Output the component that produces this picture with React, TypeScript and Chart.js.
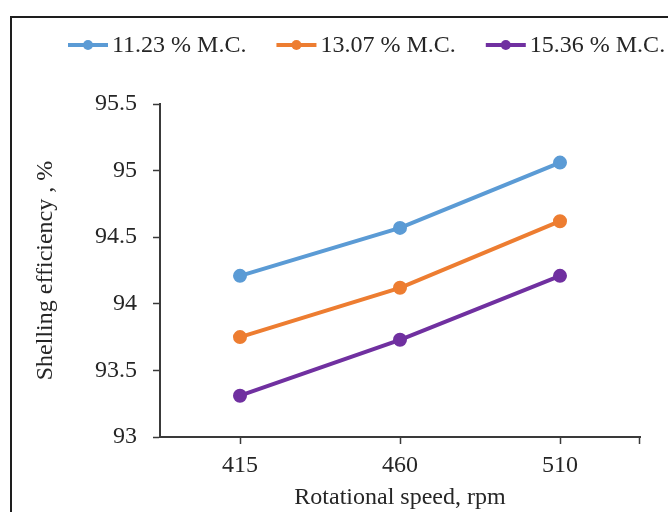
import React, { useEffect, useRef } from 'react';
import { Chart, registerables } from 'chart.js';

Chart.register(...registerables);

const categories = ['415', '460', '510'];
const series1 = [94.21, 94.57, 95.06];
const series2 = [93.75, 94.12, 94.62];
const series3 = [93.31, 93.73, 94.21];
const seriesLabels = ['11.23 % M.C.', '13.07 % M.C.', '15.36 % M.C.'];
const seriesColors = ['#5B9BD5', '#ED7D31', '#7030A0'];
const yMin = 93;
const yMax = 95.5;
const yStep = 0.5;
const xTitle = 'Rotational speed, rpm';
const yTitle = 'Shelling efficiency , %';

const FONT = '"Liberation Serif", "Times New Roman", serif';
const FSIZE = 24;
const TEXT = '#262626';
const AXIS = '#3a3a3a';

const legendPlugin = {
  id: 'lineLegend',
  afterDraw(chart: any) {
    const ctx = chart.ctx;
    ctx.save();
    ctx.font = `${FSIZE}px ${FONT}`;
    ctx.textBaseline = 'middle';
    ctx.textAlign = 'left';
    let x = 68;
    const y = 45;
    chart.data.datasets.forEach((ds: any) => {
      ctx.strokeStyle = ds.borderColor;
      ctx.lineWidth = 4;
      ctx.beginPath();
      ctx.moveTo(x, y);
      ctx.lineTo(x + 40, y);
      ctx.stroke();
      ctx.fillStyle = ds.borderColor;
      ctx.beginPath();
      ctx.arc(x + 20, y, 5, 0, Math.PI * 2);
      ctx.fill();
      ctx.fillStyle = TEXT;
      ctx.fillText(ds.label, x + 44, y + 1);
      x += 44 + ctx.measureText(ds.label).width + 30;
    });
    ctx.restore();
  },
};

const endTickPlugin = {
  id: 'endTick',
  afterDraw(chart: any) {
    const xs = chart.scales.x;
    const ctx = chart.ctx;
    ctx.save();
    ctx.strokeStyle = AXIS;
    ctx.lineWidth = 1.5;
    ctx.beginPath();
    ctx.moveTo(xs.right - 0.5, xs.top);
    ctx.lineTo(xs.right - 0.5, xs.top + 7);
    ctx.stroke();
    ctx.restore();
  },
};

export default function App() {
  const ref = useRef<HTMLCanvasElement | null>(null);

  useEffect(() => {
    if (!ref.current) return;
    const data = [series1, series2, series3];
    const chart = new Chart(ref.current, {
      type: 'line',
      data: {
        labels: categories,
        datasets: data.map((d, i) => ({
          label: seriesLabels[i],
          data: d,
          borderColor: seriesColors[i],
          backgroundColor: seriesColors[i],
          borderWidth: 4,
          pointRadius: 5,
          pointHoverRadius: 5,
          pointBackgroundColor: seriesColors[i],
          pointBorderColor: seriesColors[i],
          tension: 0,
          fill: false,
        })),
      },
      plugins: [legendPlugin, endTickPlugin],
      options: {
        responsive: false,
        animation: false,
        events: [],
        layout: { padding: { left: 0, top: 104, right: 28, bottom: 0 } },
        plugins: {
          legend: { display: false },
          tooltip: { enabled: false },
        },
        scales: {
          x: {
            type: 'category',
            offset: true,
            afterFit: (s: any) => {
              s.height = 75;
            },
            grid: {
              offset: false,
              drawOnChartArea: false,
              drawTicks: true,
              tickLength: 7,
              tickWidth: 1.5,
              tickColor: AXIS,
            },
            border: { display: true, color: AXIS, width: 2 },
            ticks: {
              color: TEXT,
              padding: 7,
              font: { family: FONT, size: FSIZE },
              maxRotation: 0,
            },
            title: {
              display: true,
              text: xTitle,
              color: TEXT,
              font: { family: FONT, size: FSIZE },
              padding: { top: 0, bottom: 0 },
            },
          },
          y: {
            type: 'linear',
            min: yMin,
            max: yMax,
            afterFit: (s: any) => {
              s.width = 160;
            },
            grid: {
              drawOnChartArea: false,
              drawTicks: true,
              tickLength: 7,
              tickWidth: 1.5,
              tickColor: AXIS,
            },
            border: { display: true, color: AXIS, width: 2 },
            ticks: {
              stepSize: yStep,
              color: TEXT,
              padding: 16,
              font: { family: FONT, size: FSIZE },
              callback: (v: any) => String(Number(v)),
            },
            title: {
              display: true,
              text: yTitle,
              color: TEXT,
              font: { family: FONT, size: FSIZE },
              padding: { top: 31, bottom: 0 },
            },
          },
        },
      },
    });
    return () => chart.destroy();
  }, []);

  return (
    <div
      style={{
        position: 'fixed',
        left: 0,
        top: 0,
        width: 668,
        height: 512,
        background: '#ffffff',
        overflow: 'hidden',
      }}
    >
      <canvas ref={ref} width={668} height={512} style={{ display: 'block', position: 'absolute', left: 0, top: 0 }} />
      <div
        style={{
          position: 'absolute',
          left: 10,
          top: 16,
          width: 720,
          height: 600,
          border: '2px solid #1e1e1e',
          boxSizing: 'border-box',
          pointerEvents: 'none',
        }}
      />
    </div>
  );
}
